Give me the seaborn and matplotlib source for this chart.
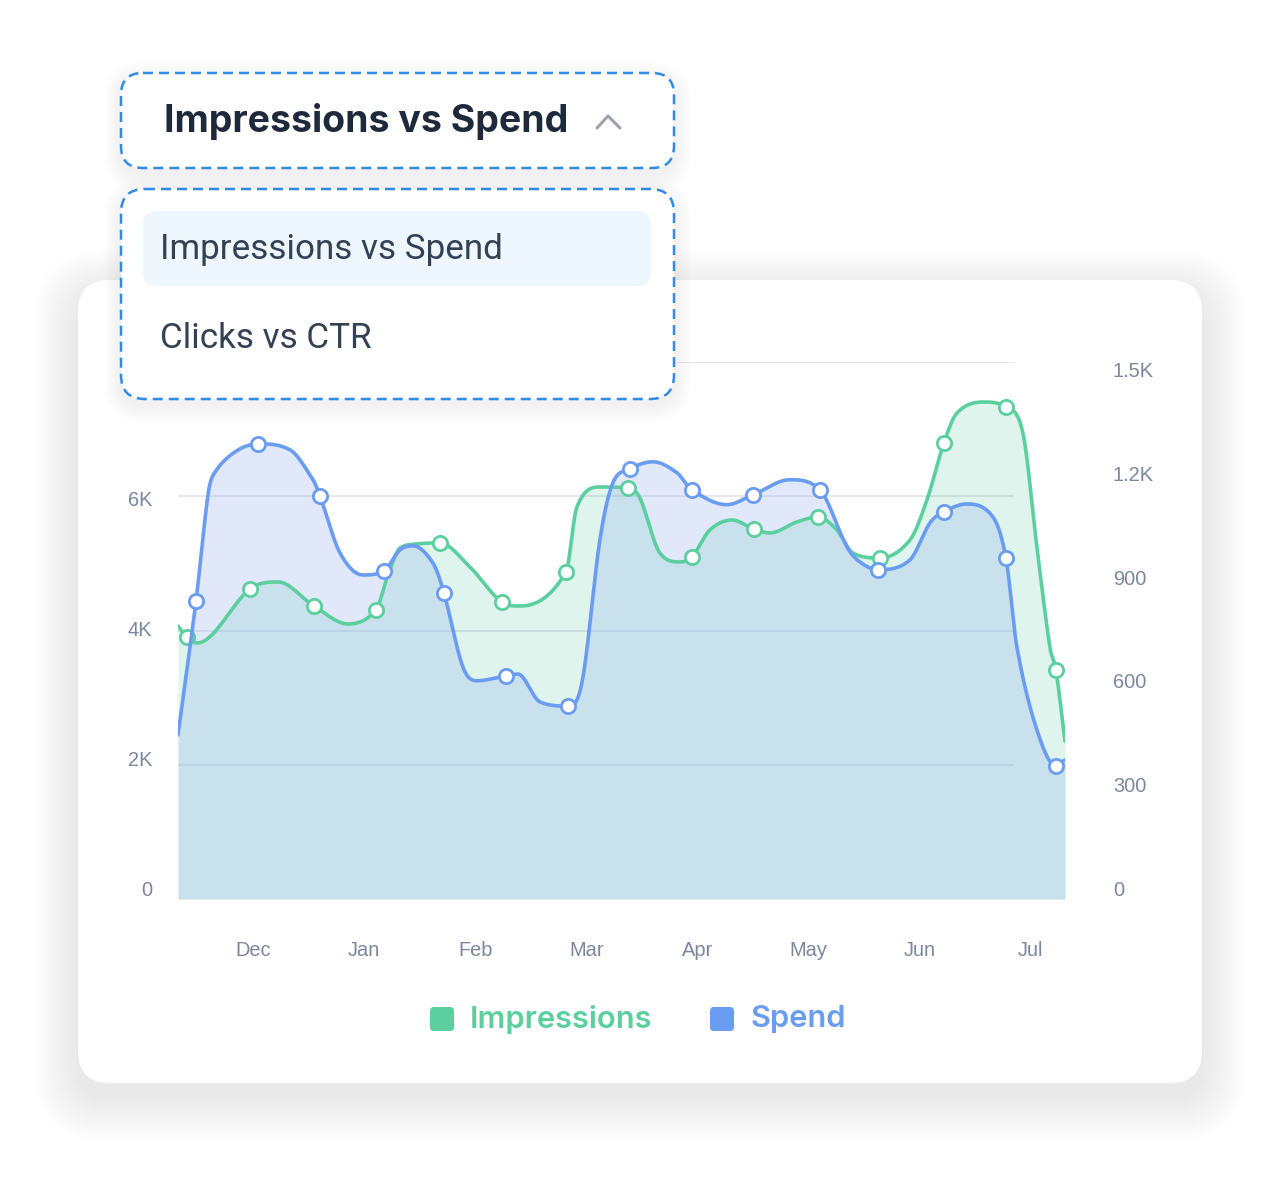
import numpy as np
import pandas as pd
import seaborn as sns
import matplotlib.pyplot as plt
from matplotlib.patches import FancyBboxPatch
from matplotlib.transforms import ScaledTranslation


months = ['Dec', 'Jan', 'Feb', 'Mar', 'Apr', 'May', 'Jun', 'Jul']

# Impressions curve (x in months from Dec, value in impressions)
imp_x = [-0.675, -0.594, -0.504, -0.027, 0.225, 0.549, 0.855, 1.107, 1.215, 1.323,
         1.476, 1.683, 1.953, 2.241, 2.403, 2.817, 2.916, 3.123, 3.375, 3.483,
         3.663, 3.843, 3.951, 4.113, 4.311, 4.509, 4.653, 4.896, 5.086, 5.257,
         5.40, 5.644, 5.914, 6.067, 6.220, 6.337, 6.571, 6.778, 6.931, 7.057,
         7.174, 7.228, 7.31]
imp_y = [4067, 3903, 3814, 4618, 4723, 4365, 4097, 4306, 4827, 5229,
         5289, 5304, 4946, 4425, 4365, 4872, 5840, 6138, 6123, 5974,
         5155, 5021, 5095, 5497, 5646, 5512, 5453, 5617, 5691, 5497,
         5155, 5080, 5348, 5944, 6794, 7240, 7404, 7330, 6942, 5244,
         3754, 3412, 2350]
imp_marked = [1, 3, 5, 7, 11, 13, 15, 18, 22, 25, 28, 31, 34, 37, 41]

# Spend curve
spend_x = [-0.675, -0.513, -0.405, -0.351, -0.162, 0.045, 0.333, 0.540, 0.603, 0.783,
           0.990, 1.179, 1.323, 1.440, 1.620, 1.719, 1.890, 2.016, 2.277, 2.385,
           2.583, 2.835, 2.961, 3.123, 3.240, 3.393, 3.600, 3.816, 3.951, 4.266,
           4.500, 4.833, 5.104, 5.347, 5.464, 5.626, 5.914, 6.094, 6.220, 6.427,
           6.661, 6.778, 6.877, 7.057, 7.228, 7.31]
spend_y = [467, 848, 1150, 1210, 1272, 1295, 1278, 1193, 1147, 985,
           922, 934, 993, 1005, 956, 871, 660, 621, 635, 640,
           561, 549, 615, 1022, 1184, 1224, 1244, 1213, 1164, 1122,
           1150, 1193, 1164, 1002, 959, 937, 965, 1070, 1102, 1124,
           1087, 971, 717, 481, 379, 396]
spend_marked = [1, 5, 8, 11, 15, 18, 21, 25, 28, 30, 32, 35, 38, 41, 44]

imp_ticks = [0, 2000, 4000, 6000, 8000]
imp_labels = ['0', '2K', '4K', '6K', '8K']
spend_ticks = [0, 300, 600, 900, 1200, 1500]
spend_labels = ['0', '300', '600', '900', '1.2K', '1.5K']

menu_title = 'Impressions vs Spend'
menu_items = ['Impressions vs Spend', 'Clicks vs CTR']

GREEN = '#5ccf9f'
BLUE = '#6a9cf2'
GREEN_FILL = '#5ac8a0'
BLUE_FILL = '#a1bcf0'
TICK = '#7b879d'
DASH = '#2f8ae8'


def smooth(x, y, xs):
    # cubic hermite, catmull-rom slopes kept monotone between knots
    x = np.asarray(x, float)
    y = np.asarray(y, float)
    h = np.diff(x)
    d = np.diff(y) / h
    m = np.zeros_like(y)
    for k in range(1, len(x) - 1):
        if d[k - 1] * d[k] > 0:
            cr = (y[k + 1] - y[k - 1]) / (x[k + 1] - x[k - 1])
            lim = 3 * min(abs(d[k - 1]), abs(d[k]))
            m[k] = np.sign(cr) * min(abs(cr), lim)
    m[0] = d[0]
    m[-1] = d[-1]
    i = np.clip(np.searchsorted(x, xs) - 1, 0, len(h) - 1)
    t = (xs - x[i]) / h[i]
    return ((2 * t**3 - 3 * t**2 + 1) * y[i] + (t**3 - 2 * t**2 + t) * h[i] * m[i]
            + (-2 * t**3 + 3 * t**2) * y[i + 1] + (t**3 - t**2) * h[i] * m[i + 1])


xs = np.linspace(-0.675, 7.31, 1500)
curve = pd.DataFrame({'x': xs,
                      'Impressions': smooth(imp_x, imp_y, xs),
                      'Spend': smooth(spend_x, spend_y, xs)})
imp_pts = pd.DataFrame({'x': np.array(imp_x)[imp_marked], 'Impressions': np.array(imp_y)[imp_marked]})
spend_pts = pd.DataFrame({'x': np.array(spend_x)[spend_marked], 'Spend': np.array(spend_y)[spend_marked]})

sns.set_theme(style='white')
plt.rcParams['font.family'] = ['Liberation Sans', 'DejaVu Sans']

fig = plt.figure(figsize=(12.8, 12), dpi=100)
fig.patch.set_facecolor('white')

# overlay axes in pixel units, one behind the chart, one in front
bg = fig.add_axes([0, 0, 1, 1], zorder=-1)
fg = fig.add_axes([0, 0, 1, 1], zorder=5)
for o in (bg, fg):
    o.set_xlim(0, 1280)
    o.set_ylim(1200, 0)
    o.axis('off')


def soft_shadow(o, x, y, w, h, r, spread, dy, alpha, steps=22):
    for k in range(steps):
        g = spread * (k + 1) / steps
        o.add_patch(FancyBboxPatch((x - g, y - g + dy), w + 2 * g, h + 2 * g,
                                   boxstyle=f'round,pad=0,rounding_size={r + g}',
                                   fc='#0f172a', ec='none', alpha=alpha))


# card
soft_shadow(bg, 78, 280, 1124, 803, 32, 46, 14, 0.0032)
bg.add_patch(FancyBboxPatch((78, 280), 1124, 803, boxstyle='round,pad=0,rounding_size=32',
                            fc='white', ec='none'))

# chart
ax = fig.add_axes([178 / 1280, 1 - 899 / 1200, 887 / 1280, 537 / 1200])
ax2 = ax.twinx()
ax.set_facecolor('none')
for a in (ax, ax2):
    for s in a.spines.values():
        s.set_visible(False)
    a.grid(False)

for v in imp_ticks[1:]:
    ax.axhline(v, xmax=0.941, color='#e5e7ee', lw=1.4, zorder=0.5)

ax.fill_between(curve['x'], curve['Impressions'], color=GREEN_FILL, alpha=0.2, lw=0, zorder=1)
ax.fill_between(curve['x'], curve['Spend'], color=BLUE_FILL, alpha=0.33, lw=0, zorder=1.1,
                transform=ax2.transData)

sns.lineplot(data=curve, x='x', y='Impressions', ax=ax, color=GREEN, linewidth=2.6, zorder=3)
sns.scatterplot(data=imp_pts, x='x', y='Impressions', ax=ax, s=105, color='white',
                edgecolor=GREEN, linewidth=2.0, zorder=4)
sns.lineplot(data=curve, x='x', y='Spend', ax=ax2, color=BLUE, linewidth=2.6, zorder=3)
sns.scatterplot(data=spend_pts, x='x', y='Spend', ax=ax2, s=105, color='white',
                edgecolor=BLUE, linewidth=2.0, zorder=4)

ax.set_xlim(-0.675, 7.31)
ax.set_ylim(0, 8000)
ax2.set_ylim(0, 1528)
ax.set_xticks(range(len(months)))
ax.set_xticklabels(months)
ax.set_yticks(imp_ticks)
ax.set_yticklabels(imp_labels)
ax2.set_yticks(spend_ticks)
ax2.set_yticklabels(spend_labels)
for a in (ax, ax2):
    a.set_xlabel('')
    a.set_ylabel('')
ax.tick_params(axis='x', length=0, pad=30.5, labelsize=14.4, labelcolor=TICK)
ax.tick_params(axis='y', length=0, pad=18.5, labelsize=14.4, labelcolor=TICK)
ax2.tick_params(axis='y', length=0, pad=34.5, labelsize=14.4, labelcolor=TICK)

# nudge y tick labels the way the original card lays them out
for v, lab in zip(imp_ticks, ax.get_yticklabels()):
    dy = (11 - v / 8000 * 18) * 0.72
    lab.set_transform(lab.get_transform() + ScaledTranslation(0, dy / 72, fig.dpi_scale_trans))
for v, lab in zip(spend_ticks, ax2.get_yticklabels()):
    dy = (11 - v / 1500 * 9) * 0.72
    lab.set_transform(lab.get_transform() + ScaledTranslation(0, dy / 72, fig.dpi_scale_trans))

# legend
for x0, name, col in [(430, 'Impressions', GREEN), (710, 'Spend', BLUE)]:
    fg.add_patch(FancyBboxPatch((x0, 1007), 24, 24, boxstyle='round,pad=0,rounding_size=4',
                                fc=col, ec='none'))
    fg.text(x0 + 40, 1019, name, color=col, fontsize=22.2, fontweight='semibold',
            family=['Inter', 'DejaVu Sans'], va='center', ha='left')

# dropdown header
soft_shadow(fg, 121, 73, 553, 95, 22, 18, 6, 0.005, steps=14)
fg.add_patch(FancyBboxPatch((121, 73), 553, 95, boxstyle='round,pad=0,rounding_size=22',
                            fc='white', ec=DASH, lw=1.8, ls=(0, (4, 2.4))))
fg.text(164, 121, menu_title, fontsize=27, fontweight='bold', color='#1e293b',
        family=['Inter', 'DejaVu Sans'], va='center', ha='left')
fg.plot([597, 608, 620], [128, 116, 128], color='#9ca3af', lw=2.2,
        solid_capstyle='round', solid_joinstyle='round')

# dropdown menu
soft_shadow(fg, 121, 189, 553, 210, 24, 18, 6, 0.005, steps=14)
fg.add_patch(FancyBboxPatch((121, 189), 553, 210, boxstyle='round,pad=0,rounding_size=24',
                            fc='white', ec=DASH, lw=1.8, ls=(0, (4, 2.4))))
fg.add_patch(FancyBboxPatch((143, 211), 508, 75, boxstyle='round,pad=0,rounding_size=14',
                            fc='#eef6fe', ec='none'))
for yy, item in zip([249, 339], menu_items):
    fg.text(160, yy, item, fontsize=25.2, color='#334155',
            family=['Roboto', 'DejaVu Sans'], va='center', ha='left')

plt.savefig('out.png', dpi=100, facecolor='white')
plt.close()
